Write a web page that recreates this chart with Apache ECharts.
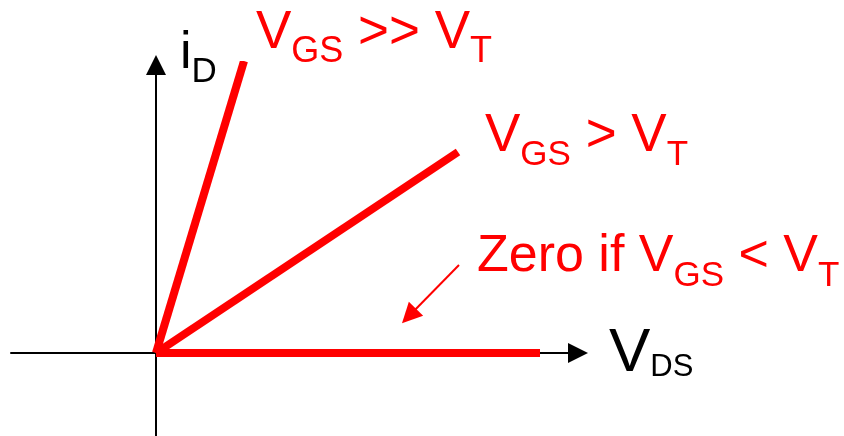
<!DOCTYPE html>
<html>
<head>
<meta charset="utf-8">
<script src="https://cdn.jsdelivr.net/npm/echarts@6/dist/echarts.min.js"></script>
<style>
  html, body { margin: 0; padding: 0; background: #fff; }
  #chart { width: 844px; height: 436px; }
</style>
</head>
<body>
<div id="chart"></div>
<script>
// axis extents (one unit = one pixel of the original sketch, origin at 0,0)
const xRange = [-145, 422];
const yRange = [-83, 288];

// end points of the three characteristic lines
const seriesNames = ['VGS >> VT', 'VGS > VT', 'VGS < VT'];
const lineEnds = [[88, 292], [302, 201], [384, 0]];

// small pointer arrow to the zero line
const pointerFrom = [303, 88];
const pointerTo = [253, 37];

// label texts: [main, sub, main, sub ...]
const labelParts = [
  ['V', 'GS', ' >> V', 'T'],
  ['V', 'GS', ' > V', 'T'],
  ['Zero if V', 'GS', ' < V', 'T'],
  ['V', 'DS'],
  ['i', 'D']
];

const RED = '#ff0000';
const FONT = '"Liberation Sans", Arial, sans-serif';

// x, baseline y, main size, sub size, sub drop, colour
const labelLayout = [
  [256, 52, 53, 36, 12.5, RED],
  [485, 155, 53, 35, 12, RED],
  [477, 275, 52, 35, 13, RED],
  [609, 375, 62, 31, 3, '#000'],
  [180, 72, 52, 35, 12, '#000']
];

const K = 0.8465; // middle-to-baseline factor + half line

function makeLabel(parts, lay) {
  const [x, base, fm, fs, drop, color] = lay;
  const pad = (fm - fs) * K + drop;
  const text = parts.map((p, i) => (i % 2 === 0 ? '{m|' : '{s|') + p + '}').join('');
  return {
    type: 'text',
    left: x,
    top: base - fm * K,
    silent: true,
    style: {
      text: text,
      fill: color,
      verticalAlign: 'top',
      align: 'left',
      rich: {
        m: { fontSize: fm, lineHeight: fm, fontFamily: FONT, fill: color, verticalAlign: 'top' },
        s: { fontSize: fs, lineHeight: fs, fontFamily: FONT, fill: color, verticalAlign: 'top', padding: [pad, 0, 0, 0] }
      }
    }
  };
}

const chart = echarts.init(document.getElementById('chart'), null, { renderer: 'canvas' });

const hiddenAxis = {
  type: 'value',
  axisLabel: { show: false },
  axisTick: { show: false },
  splitLine: { show: false },
  axisLine: {
    show: true,
    onZero: true,
    symbol: ['none', 'triangle'],
    symbolSize: [20, 20],
    lineStyle: { color: '#000', width: 2 }
  }
};

const series = lineEnds.map((end, i) => ({
  name: seriesNames[i],
  type: 'line',
  data: [[0, 0], end],
  symbol: 'none',
  lineStyle: { color: RED, width: 8, cap: 'butt' },
  z: 3
}));

series[2].markLine = {
  silent: true,
  animation: false,
  symbol: ['none', 'triangle'],
  symbolSize: [20, 20],
  label: { show: false },
  lineStyle: { color: RED, width: 2, type: 'solid' },
  data: [[{ coord: pointerFrom }, { coord: pointerTo }]]
};

chart.setOption({
  animation: false,
  grid: { left: 11, right: 266, top: 65, bottom: 0, containLabel: false },
  xAxis: Object.assign({}, hiddenAxis, { min: xRange[0], max: xRange[1] }),
  yAxis: Object.assign({}, hiddenAxis, { min: yRange[0], max: yRange[1] }),
  series: series,
  graphic: labelParts.map((p, i) => makeLabel(p, labelLayout[i]))
});
</script>
</body>
</html>
